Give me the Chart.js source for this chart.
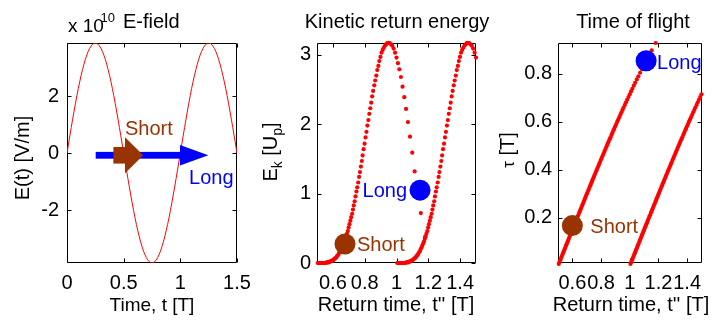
<!DOCTYPE html>
<html>
<head>
<meta charset="utf-8">
<script src="https://cdn.jsdelivr.net/npm/chart.js@4.4.0/dist/chart.umd.min.js"></script>
<style>
  html, body { margin: 0; padding: 0; background: #fff; }
  #wrap { position: relative; width: 712px; height: 320px; }
  #wrap canvas { position: absolute; left: 0; top: 0; }
</style>
</head>
<body>
<div id="wrap">
  <canvas id="field" width="712" height="320"></canvas>
  <canvas id="energy" width="712" height="320"></canvas>
  <canvas id="flight" width="712" height="320"></canvas>
</div>
<script>
const FONT = '"Liberation Sans", Arial, Helvetica, sans-serif';
const RED = "#ff0000";
const BROWN = "#993300";
const BLUE = "#0000ff";

// Driving field over 1.5 cycles (x 1e10 V/m)
const fieldT = [0, 0.025, 0.05, 0.075, 0.1, 0.125, 0.15, 0.175, 0.2, 0.225,
  0.25, 0.275, 0.3, 0.325, 0.35, 0.375, 0.4, 0.425, 0.45, 0.475,
  0.5, 0.525, 0.55, 0.575, 0.6, 0.625, 0.65, 0.675, 0.7, 0.725,
  0.75, 0.775, 0.8, 0.825, 0.85, 0.875, 0.9, 0.925, 0.95, 0.975,
  1, 1.025, 1.05, 1.075, 1.1, 1.125, 1.15, 1.175, 1.2, 1.225,
  1.25, 1.275, 1.3, 1.325, 1.35, 1.375, 1.4, 1.425, 1.45, 1.475, 1.5];
const fieldE = [0, 0.60, 1.19, 1.75, 2.27, 2.73, 3.12, 3.44, 3.67, 3.81,
  3.86, 3.81, 3.67, 3.44, 3.12, 2.73, 2.27, 1.75, 1.19, 0.60,
  0, -0.60, -1.19, -1.75, -2.27, -2.73, -3.12, -3.44, -3.67, -3.81,
  -3.86, -3.81, -3.67, -3.44, -3.12, -2.73, -2.27, -1.75, -1.19, -0.60,
  0, 0.60, 1.19, 1.75, 2.27, 2.73, 3.12, 3.44, 3.67, 3.81,
  3.86, 3.81, 3.67, 3.44, 3.12, 2.73, 2.27, 1.75, 1.19, 0.60, 0];
const fieldXTicks = [0, 0.5, 1, 1.5];
const fieldYTicks = [-2, 0, 2];

// Electrons born in the first half cycle: return time, energy, flight time
const returnA = [1.181, 1.153, 1.132, 1.114, 1.099, 1.085, 1.072, 1.060, 1.049, 1.038,
  1.028, 1.018, 1.009, 1.000, 0.991, 0.982, 0.974, 0.966, 0.957, 0.950,
  0.942, 0.935, 0.927, 0.920, 0.913, 0.906, 0.899, 0.892, 0.886, 0.879,
  0.873, 0.866, 0.860, 0.853, 0.847, 0.841, 0.835, 0.829, 0.823, 0.817,
  0.811, 0.805, 0.799, 0.793, 0.787, 0.782, 0.776, 0.770, 0.765, 0.759,
  0.753, 0.748, 0.742, 0.737, 0.731, 0.726, 0.721, 0.715, 0.710, 0.704,
  0.699, 0.694, 0.688, 0.683, 0.678, 0.673, 0.668, 0.662, 0.657, 0.652,
  0.647, 0.641, 0.636, 0.631, 0.626, 0.621, 0.615, 0.610, 0.605, 0.600,
  0.595, 0.590, 0.585, 0.580, 0.575, 0.570, 0.565, 0.560, 0.555, 0.550,
  0.545, 0.540, 0.535, 0.530, 0.525, 0.520, 0.515, 0.510, 0.505];
const energyA = [0.38, 0.72, 1.04, 1.32, 1.59, 1.82, 2.03, 2.22, 2.39, 2.54,
  2.68, 2.79, 2.88, 2.96, 3.03, 3.09, 3.13, 3.15, 3.17, 3.17,
  3.17, 3.15, 3.13, 3.10, 3.07, 3.03, 2.97, 2.91, 2.84, 2.78,
  2.70, 2.63, 2.56, 2.48, 2.40, 2.31, 2.23, 2.15, 2.06, 1.98,
  1.89, 1.81, 1.72, 1.64, 1.55, 1.47, 1.39, 1.31, 1.24, 1.16,
  1.09, 1.03, 0.96, 0.89, 0.83, 0.77, 0.71, 0.66, 0.61, 0.56,
  0.51, 0.46, 0.42, 0.38, 0.35, 0.31, 0.28, 0.25, 0.22, 0.20,
  0.17, 0.15, 0.13, 0.11, 0.10, 0.08, 0.07, 0.06, 0.05, 0.04,
  0.03, 0.03, 0.02, 0.02, 0.01, 0.01, 0.01, 0.01, 0, 0,
  0, 0, 0, 0, 0, 0, 0, 0, 0];
const flightA = [0.929, 0.898, 0.875, 0.854, 0.837, 0.820, 0.805, 0.790, 0.777, 0.763,
  0.751, 0.738, 0.727, 0.715, 0.704, 0.692, 0.682, 0.671, 0.660, 0.650,
  0.640, 0.630, 0.620, 0.610, 0.601, 0.591, 0.582, 0.572, 0.564, 0.554,
  0.546, 0.536, 0.528, 0.518, 0.510, 0.501, 0.493, 0.484, 0.476, 0.467,
  0.459, 0.450, 0.442, 0.433, 0.425, 0.417, 0.409, 0.400, 0.393, 0.384,
  0.376, 0.368, 0.360, 0.352, 0.344, 0.336, 0.329, 0.320, 0.313, 0.304,
  0.297, 0.289, 0.281, 0.273, 0.266, 0.258, 0.251, 0.242, 0.235, 0.227,
  0.220, 0.211, 0.204, 0.196, 0.189, 0.181, 0.173, 0.165, 0.158, 0.150,
  0.143, 0.135, 0.128, 0.120, 0.113, 0.105, 0.098, 0.090, 0.083, 0.075,
  0.068, 0.060, 0.053, 0.045, 0.038, 0.030, 0.023, 0.015, 0.008];

// Electrons born in the next half cycle (only returns up to 1.5 T)
const returnB = [1.500, 1.491, 1.482, 1.474, 1.466, 1.457, 1.450,
  1.442, 1.435, 1.427, 1.420, 1.413, 1.406, 1.399, 1.392, 1.386, 1.379,
  1.373, 1.366, 1.360, 1.353, 1.347, 1.341, 1.335, 1.329, 1.323, 1.317,
  1.311, 1.305, 1.299, 1.293, 1.287, 1.282, 1.276, 1.270, 1.265, 1.259,
  1.253, 1.248, 1.242, 1.237, 1.231, 1.226, 1.221, 1.215, 1.210, 1.204,
  1.199, 1.194, 1.188, 1.183, 1.178, 1.173, 1.168, 1.162, 1.157, 1.152,
  1.147, 1.141, 1.136, 1.131, 1.126, 1.121, 1.115, 1.110, 1.105, 1.100,
  1.095, 1.090, 1.085, 1.080, 1.075, 1.070, 1.065, 1.060, 1.055, 1.050,
  1.045, 1.040, 1.035, 1.030, 1.025, 1.020, 1.015, 1.010, 1.005];
const energyB = [2.96, 3.03, 3.09, 3.13, 3.15, 3.17, 3.17,
  3.17, 3.15, 3.13, 3.10, 3.07, 3.03, 2.97, 2.91, 2.84, 2.78,
  2.70, 2.63, 2.56, 2.48, 2.40, 2.31, 2.23, 2.15, 2.06, 1.98,
  1.89, 1.81, 1.72, 1.64, 1.55, 1.47, 1.39, 1.31, 1.24, 1.16,
  1.09, 1.03, 0.96, 0.89, 0.83, 0.77, 0.71, 0.66, 0.61, 0.56,
  0.51, 0.46, 0.42, 0.38, 0.35, 0.31, 0.28, 0.25, 0.22, 0.20,
  0.17, 0.15, 0.13, 0.11, 0.10, 0.08, 0.07, 0.06, 0.05, 0.04,
  0.03, 0.03, 0.02, 0.02, 0.01, 0.01, 0.01, 0.01, 0, 0,
  0, 0, 0, 0, 0, 0, 0, 0, 0];
const flightB = [0.715, 0.704, 0.692, 0.682, 0.671, 0.660, 0.650,
  0.640, 0.630, 0.620, 0.610, 0.601, 0.591, 0.582, 0.572, 0.564, 0.554,
  0.546, 0.536, 0.528, 0.518, 0.510, 0.501, 0.493, 0.484, 0.476, 0.467,
  0.459, 0.450, 0.442, 0.433, 0.425, 0.417, 0.409, 0.400, 0.393, 0.384,
  0.376, 0.368, 0.360, 0.352, 0.344, 0.336, 0.329, 0.320, 0.313, 0.304,
  0.297, 0.289, 0.281, 0.273, 0.266, 0.258, 0.251, 0.242, 0.235, 0.227,
  0.220, 0.211, 0.204, 0.196, 0.189, 0.181, 0.173, 0.165, 0.158, 0.150,
  0.143, 0.135, 0.128, 0.120, 0.113, 0.105, 0.098, 0.090, 0.083, 0.075,
  0.068, 0.060, 0.053, 0.045, 0.038, 0.030, 0.023, 0.015, 0.008];

const returnTicks = [0.6, 0.8, 1, 1.2, 1.4];
const energyTicks = [0, 1, 2, 3];
const flightTicks = [0.2, 0.4, 0.6, 0.8];

// highlighted short / long trajectories
const shortEnergy = [{ x: 0.676, y: 0.274 }];
const longEnergy = [{ x: 1.148, y: 1.05 }];
const shortFlight = [{ x: 0.600, y: 0.168 }];
const longFlight = [{ x: 1.114, y: 0.855 }];

// arrows on the field plot (time in T, height in field units)
const shortArrow = { from: 0.409, base: 0.512, to: 0.673, y: -0.08 };
const longArrow = { from: 0.253, base: 0.997, to: 1.247, y: -0.08 };

const points = (xs, ys) => xs.map((x, i) => ({ x: x, y: ys[i] }));

Chart.defaults.font.family = FONT;
Chart.defaults.color = "#000";

function axis(min, max, ticks, pad) {
  return {
    type: "linear",
    min: min,
    max: max,
    grid: { display: false, drawTicks: false },
    border: { display: false },
    ticks: {
      autoSkip: false,
      maxRotation: 0,
      minRotation: 0,
      padding: pad,
      color: "#000",
      font: { size: 20, family: FONT },
      callback: (v) => String(v),
    },
    afterBuildTicks: (s) => {
      s.ticks = ticks.map((v) => ({ value: v }));
    },
    afterFit: (s) => {
      if (s.isHorizontal()) s.height = 57;
      else s.width = 60;
    },
  };
}

// box with inward tick marks on all four sides
const frame = {
  id: "frame",
  beforeDatasetsDraw(chart) {
    const { ctx, chartArea: a, scales } = chart;
    const L = Math.round(a.left) + 0.5, R = Math.round(a.right) - 0.5;
    const T = Math.round(a.top) + 0.5, B = Math.round(a.bottom) - 0.5;
    const len = 4;
    ctx.save();
    ctx.strokeStyle = "#000";
    ctx.lineWidth = 1;
    ctx.beginPath();
    ctx.rect(L, T, R - L, B - T);
    scales.x.ticks.forEach((t) => {
      const p = Math.round(scales.x.getPixelForValue(t.value)) + 0.5;
      ctx.moveTo(p, B); ctx.lineTo(p, B - len);
      ctx.moveTo(p, T); ctx.lineTo(p, T + len);
    });
    scales.y.ticks.forEach((t) => {
      const p = Math.round(scales.y.getPixelForValue(t.value)) + 0.5;
      ctx.moveTo(L, p); ctx.lineTo(L + len, p);
      ctx.moveTo(R, p); ctx.lineTo(R - len, p);
    });
    ctx.stroke();
    ctx.restore();
  },
};

function text(ctx, str, x, y, size, color, align) {
  ctx.font = size + "px " + FONT;
  ctx.fillStyle = color || "#000";
  ctx.textAlign = align || "left";
  ctx.textBaseline = "alphabetic";
  ctx.fillText(str, x, y);
}

// runs of text with subscripts, centred on cx/cy, optionally turned upright
function rich(ctx, parts, cx, cy, upright) {
  ctx.save();
  ctx.translate(cx, cy);
  if (upright) ctx.rotate(-Math.PI / 2);
  ctx.textAlign = "left";
  ctx.textBaseline = "alphabetic";
  ctx.fillStyle = "#000";
  let w = 0;
  parts.forEach((p) => {
    ctx.font = p.size + "px " + FONT;
    p.w = ctx.measureText(p.t).width;
    w += p.w;
  });
  let x = -w / 2;
  parts.forEach((p) => {
    ctx.font = p.size + "px " + FONT;
    ctx.fillText(p.t, x, p.dy || 0);
    x += p.w;
  });
  ctx.restore();
}

function arrow(ctx, xs, ys, a, color, shaftHalf, headHalf) {
  const x0 = xs.getPixelForValue(a.from);
  const xb = xs.getPixelForValue(a.base);
  const x1 = xs.getPixelForValue(a.to);
  const y = ys.getPixelForValue(a.y);
  ctx.fillStyle = color;
  ctx.fillRect(x0, y - shaftHalf, xb - x0, 2 * shaftHalf);
  ctx.beginPath();
  ctx.moveTo(xb, y - headHalf);
  ctx.lineTo(x1, y);
  ctx.lineTo(xb, y + headHalf);
  ctx.closePath();
  ctx.fill();
}

function common(padLeft, padRight) {
  return {
    responsive: false,
    animation: false,
    devicePixelRatio: 1,
    events: [],
    layout: { padding: { left: padLeft, right: padRight, top: 43, bottom: 0 } },
    plugins: { legend: { display: false }, tooltip: { enabled: false } },
  };
}

function dots(data) {
  return {
    data: data,
    pointRadius: 2.1,
    pointBackgroundColor: RED,
    pointBorderWidth: 0,
    showLine: false,
    clip: false,
  };
}

function marker(data, color) {
  return {
    data: data,
    pointRadius: 10.5,
    pointBackgroundColor: color,
    pointBorderWidth: 0,
    showLine: false,
    clip: false,
  };
}

// E-field panel
const fieldOpts = common(7, 475);
fieldOpts.scales = { x: axis(0, 1.5, fieldXTicks, 8), y: axis(-3.86, 3.86, fieldYTicks, 8) };
new Chart(document.getElementById("field"), {
  type: "scatter",
  data: {
    datasets: [{
      data: points(fieldT, fieldE),
      showLine: true,
      borderColor: RED,
      borderWidth: 1,
      pointRadius: 0,
      cubicInterpolationMode: "monotone",
    }],
  },
  options: fieldOpts,
  plugins: [frame, {
    id: "fieldText",
    afterDatasetsDraw(chart) {
      const { ctx, scales: { x, y } } = chart;
      ctx.save();
      arrow(ctx, x, y, longArrow, BLUE, 3.4, 10.2);
      arrow(ctx, x, y, shortArrow, BROWN, 8.3, 18);
      text(ctx, "Short", x.getPixelForValue(0.512), y.getPixelForValue(0.63), 20, BROWN);
      text(ctx, "Long", x.getPixelForValue(1.077), y.getPixelForValue(-1.09), 20, BLUE);
      text(ctx, "x 10", 68, 32, 19);
      text(ctx, "10", 100.5, 22, 13);
      text(ctx, "E-field", 123, 28, 20);
      text(ctx, "Time, t [T]", 152, 311, 19, "#000", "center");
      rich(ctx, [{ t: "E(t) [V/m]", size: 20 }], 29, 158, true);
      ctx.restore();
    },
  }],
});

// kinetic energy panel
const energyOpts = common(257, 236);
energyOpts.scales = { x: axis(0.5, 1.5, returnTicks, 8), y: axis(0, 3.17, energyTicks, 6) };
new Chart(document.getElementById("energy"), {
  type: "scatter",
  data: {
    datasets: [
      marker(shortEnergy, BROWN),
      marker(longEnergy, BLUE),
      dots(points(returnA, energyA)),
      dots(points(returnB, energyB)),
    ],
  },
  options: energyOpts,
  plugins: [frame, {
    id: "energyText",
    afterDatasetsDraw(chart) {
      const { ctx, scales: { x, y } } = chart;
      ctx.save();
      const sx = x.getPixelForValue(shortEnergy[0].x), sy = y.getPixelForValue(shortEnergy[0].y);
      const lx = x.getPixelForValue(longEnergy[0].x), ly = y.getPixelForValue(longEnergy[0].y);
      text(ctx, "Short", sx + 12, sy + 7, 20, BROWN);
      text(ctx, "Long", lx - 13, ly + 7, 20, BLUE, "right");
      text(ctx, "Kinetic return energy", 397, 28, 20, "#000", "center");
      text(ctx, "Return time, t'' [T]", 396, 311, 20, "#000", "center");
      rich(ctx, [
        { t: "E", size: 20 }, { t: "k", size: 14, dy: 5 },
        { t: " [U", size: 20 }, { t: "p", size: 14, dy: 5 }, { t: "]", size: 20 },
      ], 277, 152, true);
      ctx.restore();
    },
  }],
});

// time of flight panel
const flightOpts = common(498, 5);
flightOpts.scales = { x: axis(0.5, 1.5, returnTicks, 8), y: axis(0.012, 0.929, flightTicks, 6) };
new Chart(document.getElementById("flight"), {
  type: "scatter",
  data: {
    datasets: [
      marker(shortFlight, BROWN),
      marker(longFlight, BLUE),
      dots(points(returnA, flightA)),
      dots(points(returnB, flightB)),
    ],
  },
  options: flightOpts,
  plugins: [frame, {
    id: "flightText",
    afterDatasetsDraw(chart) {
      const { ctx, scales: { x, y } } = chart;
      ctx.save();
      const sx = x.getPixelForValue(shortFlight[0].x), sy = y.getPixelForValue(shortFlight[0].y);
      const lx = x.getPixelForValue(longFlight[0].x), ly = y.getPixelForValue(longFlight[0].y);
      text(ctx, "Short", sx + 18, sy + 7, 20, BROWN);
      text(ctx, "Long", lx + 11, ly + 8, 20, BLUE);
      text(ctx, "Time of flight", 633, 28, 20, "#000", "center");
      text(ctx, "Return time, t'' [T]", 631, 311, 20, "#000", "center");
      rich(ctx, [{ t: "\u03c4", size: 17 }, { t: " [T]", size: 20 }], 514, 150, true);
      ctx.restore();
    },
  }],
});
</script>
</body>
</html>
